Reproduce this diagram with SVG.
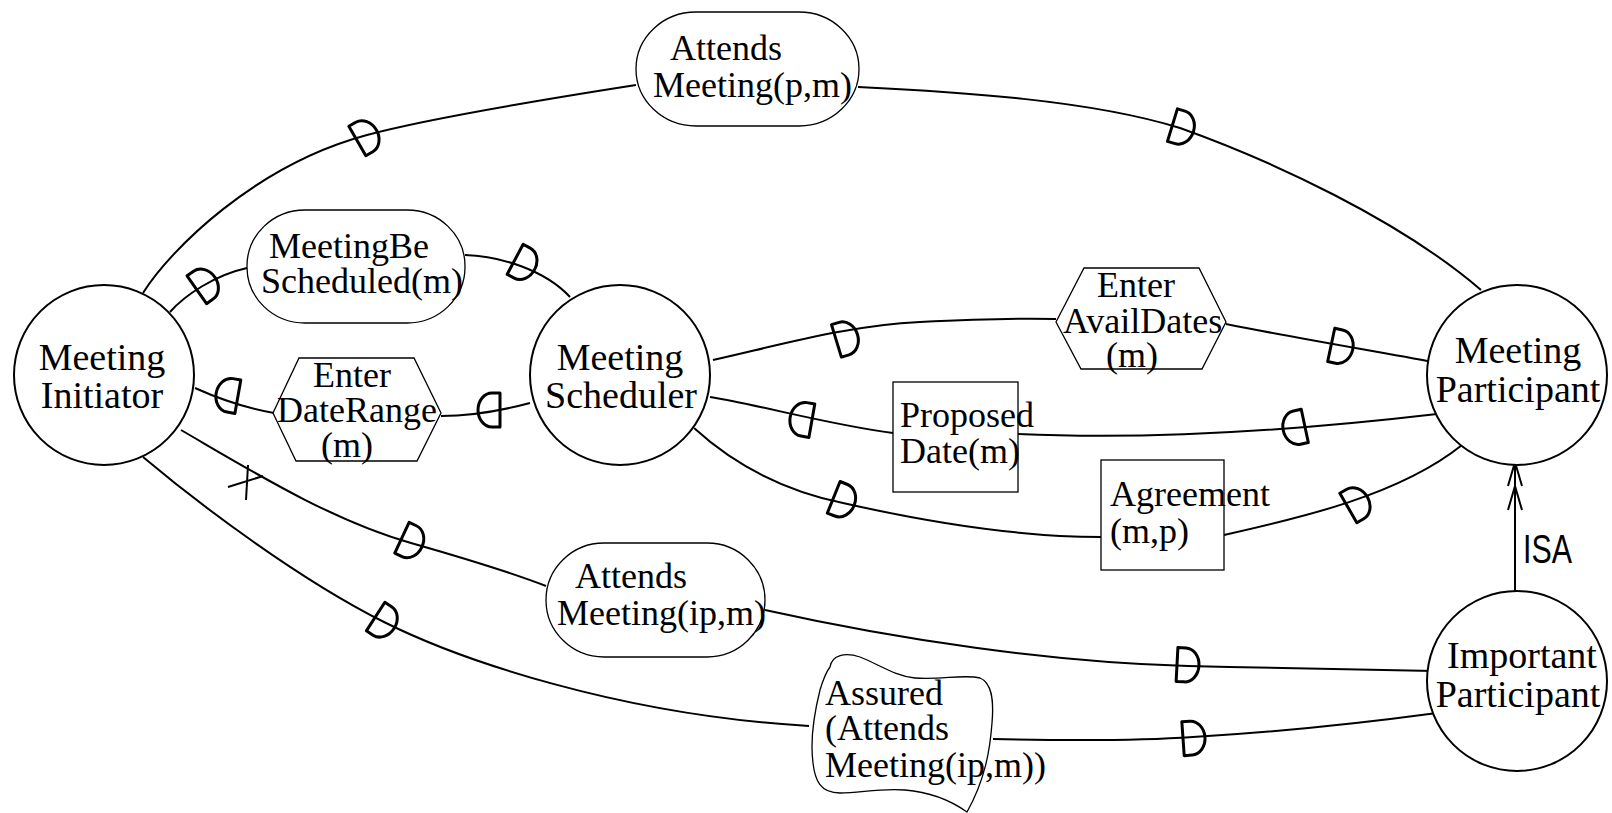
<svg xmlns="http://www.w3.org/2000/svg" width="1612" height="813" viewBox="0 0 1612 813">
<style>
.actor{fill:#fff;stroke:#000;stroke-width:2}
.dep{fill:#fff;stroke:#000;stroke-width:1.3}
.ln{fill:none;stroke:#000;stroke-width:2}
.d{fill:none;stroke:#000;stroke-width:3;stroke-linejoin:round}
.t{font-family:"Liberation Serif","Times New Roman",serif;font-size:36px;fill:#000}
.ta{font-family:"Liberation Serif","Times New Roman",serif;font-size:38px;fill:#000;text-anchor:middle}
.s{font-family:"Liberation Sans",Arial,sans-serif;font-size:40px;fill:#000}
</style>
<defs>
<path id="D" d="M-10,-17 L-2,-17 A14,17 0 0 1 -2,17 L-10,17 Z"/>
</defs>
<rect width="1612" height="813" fill="#fff"/>

<g id="connectors">
<path class="ln" d="M143,293 C170,250 255,165 367,135 C430,118 540,100 636,85"/>
<path class="ln" d="M858,87 C960,92 1090,100 1180,128 C1270,160 1400,220 1481,290"/>
<path class="ln" d="M170,312 C185,295 215,275 247,268"/>
<path class="ln" d="M465,255 C500,256 545,270 570,297"/>
<path class="ln" d="M195,388 C215,397 245,408 274,413"/>
<path class="ln" d="M441,416 C470,416 500,411 530,403"/>
<path class="ln" d="M713,360 C780,345 850,325 920,322 C980,319 1020,318 1056,319"/>
<path class="ln" d="M1226,324 C1290,337 1380,352 1433,362"/>
<path class="ln" d="M710,397 C760,405 830,425 893,433"/>
<path class="ln" d="M1018,434 C1150,440 1300,430 1437,414"/>
<path class="ln" d="M694,428 C740,470 790,492 843,503 C940,525 1030,537 1101,537"/>
<path class="ln" d="M1224,535 C1300,518 1400,495 1462,445"/>
<path class="ln" d="M181,430 C250,470 330,520 411,543 C460,557 510,572 546,586"/>
<path class="ln" d="M765,610 C900,640 1050,662 1188,666 C1280,668 1380,670 1434,671"/>
<path class="ln" d="M143,457 C200,505 300,580 384,622 C460,660 620,715 809,726"/>
<path class="ln" d="M993,739 C1080,741 1150,740 1193,737 C1280,732 1370,722 1437,713"/>
<path class="ln" d="M1515,592 L1515,462"/>
<path class="ln" d="M1508,486 L1515,462 L1522,486 M1508,510 L1515,486 L1522,510"/>
<path class="ln" d="M248,465 L246,500 M228,487 L263,476"/>
<use href="#D" class="d" transform="translate(366,136) rotate(-30)"/>
<use href="#D" class="d" transform="translate(1182,128) rotate(17)"/>
<use href="#D" class="d" transform="translate(205,284) rotate(-35)"/>
<use href="#D" class="d" transform="translate(524,264) rotate(28)"/>
<use href="#D" class="d" transform="translate(228,395) rotate(190)"/>
<use href="#D" class="d" transform="translate(490,410) rotate(180)"/>
<use href="#D" class="d" transform="translate(846,338) rotate(-17)"/>
<use href="#D" class="d" transform="translate(1341,347) rotate(12)"/>
<use href="#D" class="d" transform="translate(802,419) rotate(190)"/>
<use href="#D" class="d" transform="translate(1295,428) rotate(168)"/>
<use href="#D" class="d" transform="translate(843,501) rotate(22)"/>
<use href="#D" class="d" transform="translate(1357,503) rotate(-30)"/>
<use href="#D" class="d" transform="translate(411,542) rotate(25)"/>
<use href="#D" class="d" transform="translate(1187,665) rotate(3)"/>
<use href="#D" class="d" transform="translate(384,622) rotate(33)"/>
<use href="#D" class="d" transform="translate(1193,738) rotate(-4)"/>
<text class="s" x="1523" y="563" textLength="49" lengthAdjust="spacingAndGlyphs">ISA</text>
</g>

<g id="meeting-initiator">
<circle class="actor" cx="104" cy="375" r="90"/>
<text class="ta" x="102" y="370">Meeting</text>
<text class="ta" x="102" y="408">Initiator</text>
</g>
<g id="meeting-scheduler">
<circle class="actor" cx="620" cy="375" r="90"/>
<text class="ta" x="620" y="370">Meeting</text>
<text class="ta" x="621" y="408">Scheduler</text>
</g>
<g id="meeting-participant">
<circle class="actor" cx="1517" cy="375" r="90"/>
<text class="ta" x="1518" y="363">Meeting</text>
<text class="ta" x="1518" y="402">Participant</text>
</g>
<g id="important-participant">
<circle class="actor" cx="1517" cy="681" r="90"/>
<text class="ta" x="1522" y="668">Important</text>
<text class="ta" x="1518" y="707">Participant</text>
</g>

<g id="attends-meeting-pm">
<rect class="dep" x="636" y="12" width="223" height="114" rx="60" ry="57"/>
<text class="t" x="670" y="60">Attends</text>
<text class="t" x="653" y="97">Meeting(p,m)</text>
</g>
<g id="meeting-be-scheduled">
<rect class="dep" x="247" y="210" width="218" height="113" rx="58" ry="56"/>
<text class="t" x="269" y="258">MeetingBe</text>
<text class="t" x="261" y="293">Scheduled(m)</text>
</g>
<g id="enter-date-range">
<polygon class="dep" points="273,413 299,358 414,358 441,413 417,461 296,461"/>
<text class="t" x="313" y="387">Enter</text>
<text class="t" x="277" y="422">DateRange</text>
<text class="t" x="321" y="457">(m)</text>
</g>
<g id="enter-avail-dates">
<polygon class="dep" points="1056,322 1084,268 1199,268 1226,322 1202,369 1081,369"/>
<text class="t" x="1097" y="297">Enter</text>
<text class="t" x="1063" y="333">AvailDates</text>
<text class="t" x="1106" y="367">(m)</text>
</g>
<g id="proposed-date">
<rect class="dep" x="893" y="382" width="125" height="110"/>
<text class="t" x="900" y="427">Proposed</text>
<text class="t" x="900" y="463">Date(m)</text>
</g>
<g id="agreement">
<rect class="dep" x="1101" y="460" width="123" height="110"/>
<text class="t" x="1110" y="506">Agreement</text>
<text class="t" x="1110" y="543">(m,p)</text>
</g>
<g id="attends-meeting-ipm">
<rect class="dep" x="546" y="543" width="219" height="114" rx="58" ry="57"/>
<text class="t" x="575" y="588">Attends</text>
<text class="t" x="557" y="625">Meeting(ip,m)</text>
</g>
<g id="assured-attends-meeting">
<path class="dep" d="M830,667 C832,655 845,652 860,657 C880,665 895,676 915,678 C940,680 965,674 980,678 C992,683 994,700 992,723 C990,750 985,780 967,812 C950,800 930,792 905,790 C880,788 860,793 840,793 C820,793 815,780 813,763 C810,740 815,710 820,690 C823,680 826,672 830,667 Z"/>
<text class="t" x="825" y="705">Assured</text>
<text class="t" x="825" y="740">(Attends</text>
<text class="t" x="825" y="777">Meeting(ip,m))</text>
</g>
</svg>
